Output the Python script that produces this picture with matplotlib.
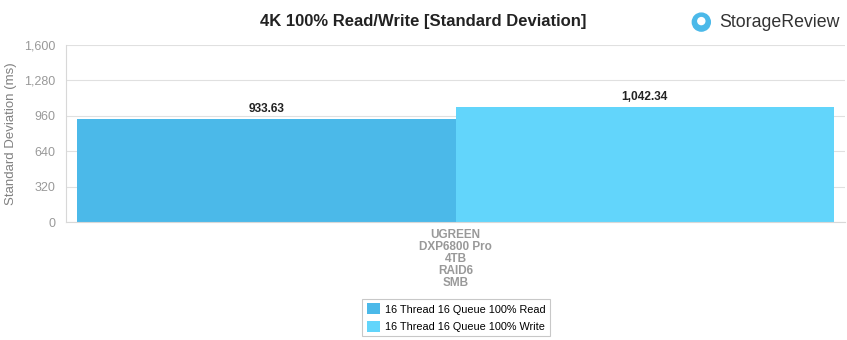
import matplotlib
matplotlib.use("Agg")
import matplotlib.pyplot as plt
from matplotlib.patches import Circle

plt.rcParams["font.family"] = ["Liberation Sans", "DejaVu Sans"]

# data
category = "UGREEN\nDXP6800 Pro\n4TB\nRAID6\nSMB"
series = ["16 Thread 16 Queue 100% Read", "16 Thread 16 Queue 100% Write"]
values = [933.63, 1042.34]
labels = ["933.63", "1,042.34"]
colors = ["#4BB9E9", "#62D5FB"]
yticks = [0, 320, 640, 960, 1280, 1600]

fig = plt.figure(figsize=(8.47, 3.4), dpi=100)
ax = fig.add_axes([0.0779, 0.347, 0.920, 0.521])

group = 0.9705
w = group / len(values)
for i, (s, v, lab, c) in enumerate(zip(series, values, labels, colors)):
    x = -group / 2 + w * (i + 0.5)
    ax.bar(x, v, width=w, color=c, label=s, zorder=2)
    ax.text(x, v + 35, lab, ha="center", va="bottom", fontsize=8.6,
            fontweight="bold", color="#222222")

ax.set_xlim(-0.5, 0.5)
ax.set_ylim(0, 1600)
ax.set_yticks(yticks)
ax.set_yticklabels([f"{t:,}" for t in yticks])
ax.set_xticks([0])
ax.set_xticklabels([category], fontsize=8.5, fontweight="bold", color="#999999",
                   linespacing=1.0)
ax.tick_params(axis="y", labelsize=9, labelcolor="#999999", length=0, pad=7.5)
ax.tick_params(axis="x", length=0, pad=5)
ax.grid(axis="y", color="#e0e0e0", linewidth=0.8, zorder=0)
for sp in ["top", "right"]:
    ax.spines[sp].set_visible(False)
ax.spines["left"].set_color("#d8d8d8")
ax.spines["bottom"].set_color("#d8d8d8")

fig.text(0.013, 0.607, "Standard Deviation (ms)", rotation=90, ha="center", va="center",
         fontsize=9.5, color="#808080")

fig.text(0.5, 0.938, "4K 100% Read/Write [Standard Deviation]", ha="center", va="center",
         fontsize=12, fontweight="bold", color="#222222")

# logo
cx, cy = 0.828 * 8.47, 0.935 * 3.4
fig.patches.append(Circle((cx, cy), 0.09, transform=fig.dpi_scale_trans,
                          color="#4BB9E9", figure=fig))
fig.patches.append(Circle((cx, cy + 0.01), 0.035, transform=fig.dpi_scale_trans,
                          color="white", figure=fig))
fig.text(0.849, 0.935, "StorageReview", ha="left", va="center", fontsize=12.8,
         color="#333333")

leg = fig.legend(loc="center", bbox_to_anchor=(0.5385, 0.066), ncol=1, fontsize=7.8,
                 frameon=True, fancybox=False, edgecolor="#bbbbbb",
                 handlelength=1.2, handleheight=1.2, handletextpad=0.5,
                 borderpad=0.4, labelspacing=0.55)
leg.get_frame().set_linewidth(0.8)

fig.savefig("out.png", dpi=100)
